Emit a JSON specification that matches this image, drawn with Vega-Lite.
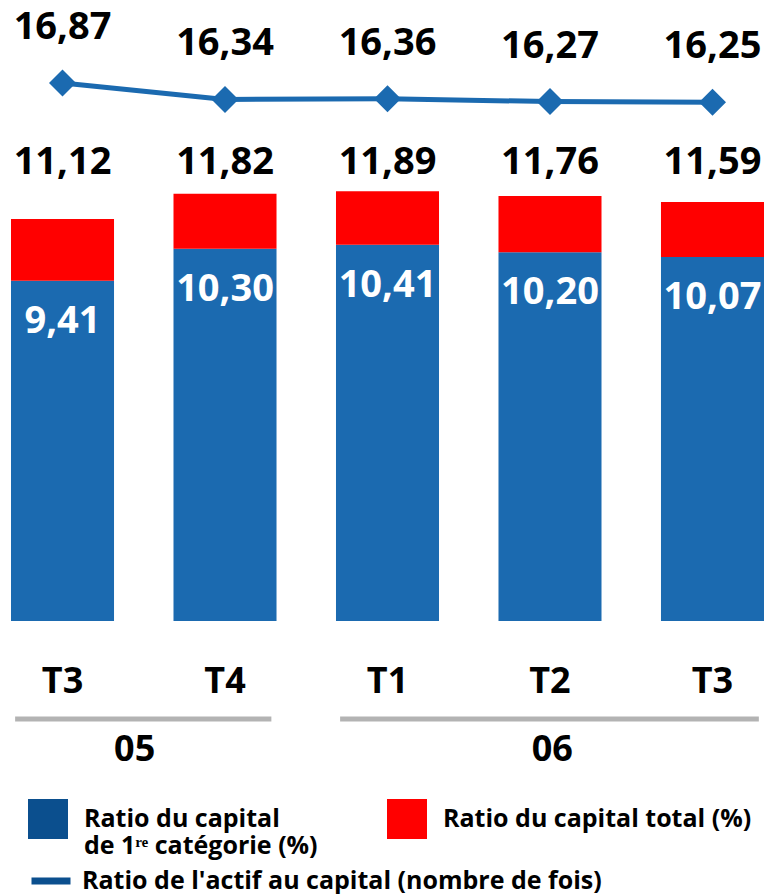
{
  "$schema": "https://vega.github.io/schema/vega-lite/v6.json",
  "padding": {"left": 11, "top": 0, "right": 0, "bottom": 0},
  "background": "white",
  "spacing": 0,
  "config": {
    "view": {"stroke": null},
    "font": "Open Sans",
    "locale": {"number": {"decimal": ",", "thousands": " ", "grouping": [3], "currency": ["", " €"]}}
  },
  "datasets": {
    "ratios": [
      {"periode": "T3 05", "tier1": 9.41, "total": 11.12, "levier": 16.87},
      {"periode": "T4 05", "tier1": 10.30, "total": 11.82, "levier": 16.34},
      {"periode": "T1 06", "tier1": 10.41, "total": 11.89, "levier": 16.36},
      {"periode": "T2 06", "tier1": 10.20, "total": 11.76, "levier": 16.27},
      {"periode": "T3 06", "tier1": 10.07, "total": 11.59, "levier": 16.25}
    ],
    "annees": [
      {"annee": "05", "debut": "T3 05", "fin": "T4 05"},
      {"annee": "06", "debut": "T1 06", "fin": "T3 06"}
    ]
  },
  "vconcat": [
    {
      "width": 753,
      "height": 621,
      "data": {"name": "ratios"},
      "encoding": {
        "x": {
          "field": "periode", "type": "nominal", "sort": null,
          "scale": {"paddingInner": 0.366, "paddingOuter": 0},
          "axis": {
            "title": null, "domain": false, "ticks": false, "tickSize": 0,
            "labelPadding": 71, "labelBaseline": "alphabetic", "labelAngle": 0,
            "labelFont": "Open Sans", "labelFontSize": 36, "labelFontWeight": "bold", "labelColor": "#000000",
            "labelExpr": "split(datum.label, ' ')[0]"
          }
        }
      },
      "layer": [
        {
          "layer": [
            {
              "mark": {"type": "bar", "color": "#1b6ab0"},
              "encoding": {
                "y": {"field": "tier1", "type": "quantitative", "scale": {"domain": [0, 17.18], "nice": false, "zero": false}, "axis": null}
              }
            },
            {
              "mark": {"type": "bar", "color": "#ff0000"},
              "encoding": {
                "y": {"field": "tier1", "type": "quantitative"},
                "y2": {"field": "total"}
              }
            },
            {
              "mark": {"type": "point", "filled": true, "size": 0, "opacity": 1},
              "encoding": {
                "y": {"field": "tier1", "type": "quantitative"},
                "color": {
                  "datum": "Ratio du capital de 1re catégorie (%)",
                  "scale": {"domain": ["Ratio du capital de 1re catégorie (%)", "Ratio du capital total (%)"], "range": ["#0b4f8e", "#ff0000"]},
                  "legend": {
                    "title": null, "orient": "none", "legendX": 17, "legendY": 799, "direction": "horizontal",
                    "symbolType": "square", "symbolSize": 1600, "symbolStrokeWidth": 0, "symbolOpacity": 1,
                    "labelFont": "Open Sans", "labelFontSize": 25, "labelFontWeight": "bold", "labelColor": "#000000",
                    "labelLimit": 700, "labelOffset": 16, "columnPadding": 69,
                    "labelExpr": "datum.label === 'Ratio du capital de 1re catégorie (%)' ? ['Ratio du capital', 'de 1ʳᵉ catégorie (%)'] : [datum.label, ' ']"
                  }
                }
              }
            },
            {
              "mark": {"type": "text", "color": "#ffffff", "font": "Open Sans", "fontSize": 38, "fontWeight": "bold", "baseline": "alphabetic", "align": "center", "dy": 52},
              "encoding": {
                "y": {"field": "tier1", "type": "quantitative"},
                "text": {"field": "tier1", "type": "quantitative", "format": ".2f"}
              }
            },
            {
              "transform": [{"joinaggregate": [{"op": "max", "field": "total", "as": "maxtotal"}]}],
              "mark": {"type": "text", "color": "#000000", "font": "Open Sans", "fontSize": 38, "fontWeight": "bold", "baseline": "alphabetic", "align": "center", "dy": -17},
              "encoding": {
                "y": {"field": "maxtotal", "type": "quantitative"},
                "text": {"field": "total", "type": "quantitative", "format": ".2f"}
              }
            }
          ]
        },
        {
          "layer": [
            {
              "mark": {"type": "line", "strokeWidth": 5, "color": "#1b6ab0"},
              "encoding": {
                "y": {"field": "levier", "type": "quantitative", "scale": {"domain": [-0.485, 19.547], "nice": false, "zero": false}, "axis": null}
              }
            },
            {
              "mark": {"type": "point", "filled": false, "size": 0, "strokeWidth": 7, "opacity": 1},
              "encoding": {
                "y": {"field": "levier", "type": "quantitative"},
                "stroke": {
                  "datum": "Ratio de l'actif au capital (nombre de fois)",
                  "scale": {"range": ["#0b4f8e"]},
                  "legend": {
                    "title": null, "orient": "none", "legendX": 17, "legendY": 858,
                    "symbolType": "stroke", "symbolSize": 1521, "symbolStrokeWidth": 7, "symbolOpacity": 1,
                    "labelFont": "Open Sans", "labelFontSize": 25, "labelFontWeight": "bold", "labelColor": "#000000",
                    "labelLimit": 700, "labelOffset": 8
                  }
                }
              }
            },
            {
              "mark": {"type": "point", "shape": "diamond", "filled": true, "size": 729, "color": "#1b6ab0", "opacity": 1},
              "encoding": {"y": {"field": "levier", "type": "quantitative"}}
            },
            {
              "mark": {"type": "text", "color": "#000000", "font": "Open Sans", "fontSize": 38, "fontWeight": "bold", "baseline": "alphabetic", "align": "center", "dy": -44},
              "encoding": {
                "y": {"field": "levier", "type": "quantitative"},
                "text": {"field": "levier", "type": "quantitative", "format": ".2f"}
              }
            }
          ]
        }
      ],
      "resolve": {"scale": {"y": "independent"}}
    },
    {
      "width": 753,
      "height": 40,
      "data": {"name": "annees"},
      "layer": [
        {
          "mark": {"type": "rule", "color": "#b3b3b3", "strokeWidth": 5},
          "encoding": {
            "x": {
              "field": "debut", "type": "nominal", "bandPosition": 0.04,
              "scale": {"domain": ["T3 05", "T4 05", "T1 06", "T2 06", "T3 06"], "paddingInner": 0.366, "paddingOuter": 0},
              "axis": null
            },
            "x2": {"field": "fin", "bandPosition": 0.95}
          }
        },
        {
          "transform": [{"filter": "datum.annee === '05'"}],
          "mark": {"type": "text", "color": "#000000", "font": "Open Sans", "fontSize": 36, "fontWeight": "bold", "baseline": "alphabetic", "align": "center", "dy": 42},
          "encoding": {
            "x": {"field": "debut", "type": "nominal", "bandPosition": 1.2},
            "text": {"field": "annee", "type": "nominal"}
          }
        },
        {
          "transform": [{"filter": "datum.annee === '06'"}],
          "mark": {"type": "text", "color": "#000000", "font": "Open Sans", "fontSize": 36, "fontWeight": "bold", "baseline": "alphabetic", "align": "center", "dy": 42},
          "encoding": {
            "x": {"field": "debut", "type": "nominal", "bandPosition": 2.1},
            "text": {"field": "annee", "type": "nominal"}
          }
        }
      ]
    }
  ]
}
